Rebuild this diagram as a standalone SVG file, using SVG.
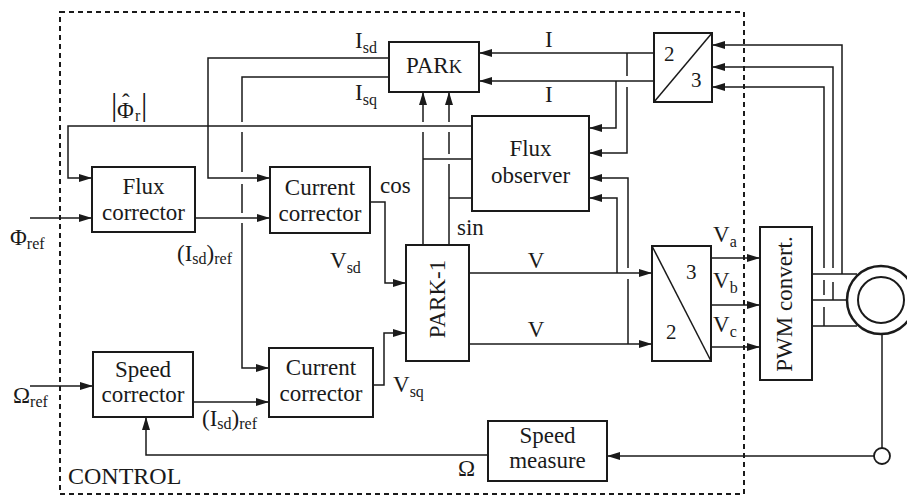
<svg xmlns="http://www.w3.org/2000/svg" width="907" height="496" viewBox="0 0 907 496">
<defs>
<style>
.box{fill:#fff;stroke:#1a1a1a;stroke-width:2}
.ln{fill:none;stroke:#1a1a1a;stroke-width:1.5}
.t{font-family:"Liberation Serif","Times New Roman",serif;font-size:23px;fill:#1a1a1a}
.m{text-anchor:middle}
.s{font-size:16px}
.d{font-size:21px}
</style>
<marker id="ah" viewBox="0 0 13 8" refX="13" refY="4" markerWidth="13" markerHeight="8" orient="auto" markerUnits="userSpaceOnUse"><path d="M0,0 L13,4 L0,8 z" fill="#1a1a1a"/></marker>
</defs>
<rect width="907" height="496" fill="#fff"/>
<g id="control-frame">
<rect x="60" y="12" width="684" height="482" fill="none" stroke="#1a1a1a" stroke-width="2" stroke-dasharray="5 4"/>
<text class="t" x="68" y="484" style="font-size:24px">CONTROL</text>
</g>
<g id="connectors">
<path class="ln" marker-end="url(#ah)" d="M30,218 H92"/>
<path class="ln" marker-end="url(#ah)" d="M195,218 H270"/>
<path class="ln" marker-end="url(#ah)" d="M472,126 H68 V178 H92"/>
<path class="ln" marker-end="url(#ah)" d="M389,58 H208 V178 H270"/>
<path class="ln" marker-end="url(#ah)" d="M389,77 H242 V122 M242,132 V172 M242,184 V213 M242,223 V368 H269"/>
<path class="ln" marker-end="url(#ah)" d="M370,202 H385 V283 H406"/>
<path class="ln" marker-end="url(#ah)" d="M373,385 H384 V333 H406"/>
<path class="ln" marker-end="url(#ah)" d="M423,245 V132 M423,122 V92"/>
<path class="ln" d="M423,159 H472"/>
<path class="ln" marker-end="url(#ah)" d="M449,245 V164 M449,154 V132 M449,122 V92"/>
<path class="ln" d="M449,198 H472"/>
<path class="ln" marker-end="url(#ah)" d="M654,53 H479"/>
<path class="ln" marker-end="url(#ah)" d="M654,81 H479"/>
<path class="ln" marker-end="url(#ah)" d="M627,53 V76 M627,87 V153 H589"/>
<path class="ln" marker-end="url(#ah)" d="M616,81 V128 H589"/>
<path class="ln" marker-end="url(#ah)" d="M469,273 H652"/>
<path class="ln" marker-end="url(#ah)" d="M469,344 H652"/>
<path class="ln" marker-end="url(#ah)" d="M617,273 V198 H589"/>
<path class="ln" marker-end="url(#ah)" d="M628,344 V279 M628,268 V178 H589"/>
<path class="ln" marker-end="url(#ah)" d="M711,258 H760"/>
<path class="ln" marker-end="url(#ah)" d="M711,305 H760"/>
<path class="ln" marker-end="url(#ah)" d="M711,347 H760"/>
<path class="ln" d="M812,274 H857 M812,300 H847 M812,326 H857"/>
<path class="ln" marker-end="url(#ah)" d="M842,274 V45 H712"/>
<path class="ln" marker-end="url(#ah)" d="M833,300 V282 M833,268 V67 H712"/>
<path class="ln" marker-end="url(#ah)" d="M824,326 V307 M824,295 V280 M824,268 V87 H712"/>
<path class="ln" d="M882,303 V448"/>
<path class="ln" marker-end="url(#ah)" d="M874,456 H607"/>
<path class="ln" marker-end="url(#ah)" d="M488,455 H146 V417"/>
<path class="ln" marker-end="url(#ah)" d="M30,386 H93"/>
<path class="ln" marker-end="url(#ah)" d="M193,402 H269"/>
</g>
<g id="labels">
<text class="t" x="10" y="245">Φ<tspan class="s" dy="4">ref</tspan></text>
<text class="t" x="13" y="403">Ω<tspan class="s" dy="4">ref</tspan></text>
<text class="t" x="111" y="115" style="font-size:32px">|</text>
<text class="t" x="117" y="118">Φ<tspan x="122" dy="-8">ˆ</tspan><tspan class="s" x="135" dy="11">r</tspan></text>
<text class="t" x="141" y="115" style="font-size:32px">|</text>
<text class="t" x="355" y="48">I<tspan class="s" dy="5">sd</tspan></text>
<text class="t" x="355" y="100">I<tspan class="s" dy="5">sq</tspan></text>
<text class="t" x="545" y="47">I</text>
<text class="t" x="545" y="102">I</text>
<text class="t" x="380" y="193">cos</text>
<text class="t" x="457" y="235">sin</text>
<text class="t" x="330" y="268">V<tspan class="s" dy="5">sd</tspan></text>
<text class="t" x="393" y="392">V<tspan class="s" dy="5">sq</tspan></text>
<text class="t" x="177" y="261">(I<tspan class="s" dy="3">sd</tspan><tspan dy="-3">)</tspan><tspan class="s" dy="3">ref</tspan></text>
<text class="t" x="202" y="426">(I<tspan class="s" dy="3">sd</tspan><tspan dy="-3">)</tspan><tspan class="s" dy="3">ref</tspan></text>
<text class="t m" x="536" y="268">V</text>
<text class="t m" x="536" y="337">V</text>
<text class="t" x="713" y="242">V<tspan class="s" dy="5">a</tspan></text>
<text class="t" x="713" y="288">V<tspan class="s" dy="5">b</tspan></text>
<text class="t" x="713" y="332">V<tspan class="s" dy="5">c</tspan></text>
<text class="t" x="458" y="476">Ω</text>
</g>
<g id="park">
<rect class="box" x="389" y="42" width="90" height="50"/>
<text class="t m" x="434" y="73">PAR<tspan style="font-size:18.5px">K</tspan></text>
</g>
<g id="flux-corrector">
<rect class="box" x="92" y="167" width="103" height="65"/>
<text class="t m" x="143.5" y="194">Flux</text>
<text class="t m" x="143.5" y="220">corrector</text>
</g>
<g id="current-corrector-d">
<rect class="box" x="270" y="167" width="100" height="66"/>
<text class="t m" x="320" y="195">Current</text>
<text class="t m" x="320" y="221">corrector</text>
</g>
<g id="flux-observer">
<rect class="box" x="472" y="116" width="117" height="95"/>
<text class="t m" x="530.5" y="156">Flux</text>
<text class="t m" x="530.5" y="183">observer</text>
</g>
<g id="conv-2-3">
<rect class="box" x="654" y="33" width="58" height="69"/>
<line class="ln" x1="654" y1="102" x2="712" y2="33"/>
<text class="t d" x="664" y="61">2</text>
<text class="t d" x="691" y="87">3</text>
</g>
<g id="park-inv">
<rect class="box" x="406" y="245" width="63" height="116"/>
<text class="t m" transform="translate(445,299) rotate(-90)">PARK-1</text>
</g>
<g id="conv-3-2">
<rect class="box" x="652" y="246" width="59" height="115"/>
<line class="ln" x1="652" y1="246" x2="711" y2="361"/>
<text class="t d" x="686" y="279">3</text>
<text class="t d" x="666" y="339">2</text>
</g>
<g id="pwm">
<rect class="box" x="760" y="227" width="52" height="153"/>
<text class="t m" transform="translate(792,304) rotate(-90)">PWM convert.</text>
</g>
<g id="motor">
<circle cx="881" cy="300" r="34" fill="#fff" stroke="#1a1a1a" stroke-width="2.5"/>
<circle cx="881" cy="300" r="23" fill="none" stroke="#1a1a1a" stroke-width="2"/>
</g>
<g id="speed-sensor">
<circle cx="882" cy="456" r="8" fill="#fff" stroke="#1a1a1a" stroke-width="1.8"/>
</g>
<g id="speed-corrector">
<rect class="box" x="93" y="352" width="100" height="65"/>
<text class="t m" x="143" y="377">Speed</text>
<text class="t m" x="143" y="402">corrector</text>
</g>
<g id="current-corrector-q">
<rect class="box" x="269" y="348" width="104" height="69"/>
<text class="t m" x="321" y="375">Current</text>
<text class="t m" x="321" y="401">corrector</text>
</g>
<g id="speed-measure">
<rect class="box" x="488" y="421" width="119" height="60"/>
<text class="t m" x="547.5" y="443">Speed</text>
<text class="t m" x="547.5" y="468">measure</text>
</g>
</svg>
